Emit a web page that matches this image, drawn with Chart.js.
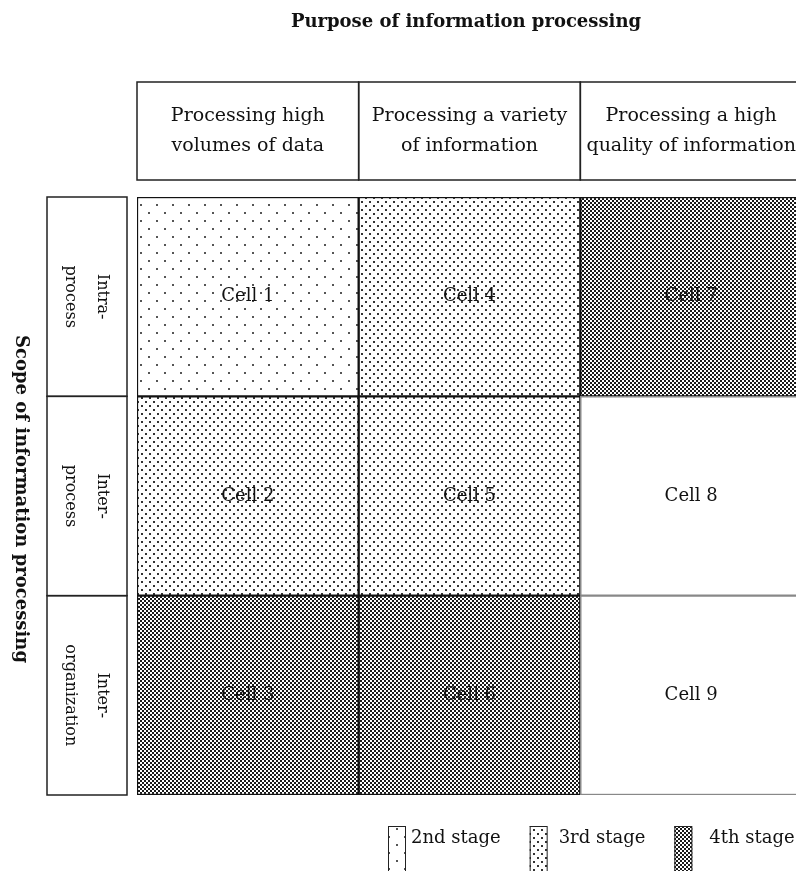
<!DOCTYPE html>
<html lang="en">

<head>
    <meta charset="UTF-8">
    <meta name="viewport" content="width=device-width, initial-scale=1.0">
    <title>Information processing stages</title>
    <style>
        * {
            margin: 0;
            padding: 0;
        }

        body {
            background: #fff;
            overflow: hidden;
        }

        canvas {
            display: block;
        }
    </style>
</head>

<body>
    <canvas id="myChart" width="802" height="871"></canvas>
</body>
<script src="https://cdn.jsdelivr.net/npm/chart.js@4.4.1/dist/chart.umd.min.js"></script>

<script>
    // column headers (purpose of information processing)
    const columnLabels = [
        ['Processing high', 'volumes of data'],
        ['Processing a variety', 'of information'],
        ['Processing a high', 'quality of information']
    ];
    // row headers (scope of information processing), top to bottom
    const rowLabels = [
        ['Intra-', 'process'],
        ['Inter-', 'process'],
        ['Inter-', 'organization']
    ];
    // cell names per row, top to bottom
    const cellNames = [
        ['Cell 1', 'Cell 4', 'Cell 7'],
        ['Cell 2', 'Cell 5', 'Cell 8'],
        ['Cell 3', 'Cell 6', 'Cell 9']
    ];
    // stage of each cell (0 = none)
    const cellStages = [
        [2, 3, 4],
        [3, 3, 0],
        [4, 4, 0]
    ];
    const cellHeight = [1, 1, 1];
    const stageNumbers = [2, 3, 4];
    const stageLabels = ['2nd stage', '3rd stage', '4th stage'];
    const titleTop = 'Purpose of information processing';
    const titleSide = 'Scope of information processing';

    const serif = '"DejaVu Serif", "Liberation Serif", serif';

    function makePattern(stage) {
        if (!stage) return '#ffffff';
        const c = document.createElement('canvas');
        const g = c.getContext('2d');
        if (stage == 2) {
            c.width = 16; c.height = 16;
            g.fillStyle = '#fff'; g.fillRect(0, 0, 16, 16);
            g.fillStyle = '#555';
            g.fillRect(4, 4, 2, 2);
            g.fillRect(12, 12, 2, 2);
        } else if (stage == 3) {
            c.width = 8; c.height = 8;
            g.fillStyle = '#fff'; g.fillRect(0, 0, 8, 8);
            g.fillStyle = '#333';
            g.fillRect(1, 1, 2, 2);
            g.fillRect(5, 5, 2, 2);
        } else {
            c.width = 4; c.height = 4;
            g.fillStyle = '#fff'; g.fillRect(0, 0, 4, 4);
            g.fillStyle = '#1a1a1a';
            g.fillRect(0, 0, 2, 2);
            g.fillRect(2, 2, 2, 2);
        }
        return g.createPattern(c, 'repeat');
    }

    const patterns = {};
    stageNumbers.forEach(s => patterns[s] = makePattern(s));
    patterns[0] = '#ffffff';

    // stacked bars build from the bottom, so reverse the rows
    const datasets = [];
    for (let r = rowLabels.length - 1; r >= 0; r--) {
        datasets.push({
            label: rowLabels[r].join(''),
            data: cellHeight.slice(),
            cellNames: cellNames[r],
            backgroundColor: cellStages[r].map(s => patterns[s]),
            borderColor: cellStages[r].map(s => s ? '#111' : '#888'),
            borderWidth: 1.5,
            borderSkipped: false,
            barPercentage: 1,
            categoryPercentage: 1
        });
    }

    const gridDecor = {
        id: 'gridDecor',
        afterDatasetsDraw(chart) {
            const ctx = chart.ctx;
            const area = chart.chartArea;
            ctx.save();
            ctx.fillStyle = '#111';
            ctx.strokeStyle = '#222';
            ctx.textAlign = 'center';
            ctx.textBaseline = 'middle';

            // cell names
            ctx.font = '18px ' + serif;
            chart.data.datasets.forEach((ds, di) => {
                chart.getDatasetMeta(di).data.forEach((bar, ci) => {
                    const p = bar.getProps(['x', 'y', 'base'], true);
                    ctx.fillText(ds.cellNames[ci], p.x, (p.y + p.base) / 2);
                });
            });

            // column header boxes
            const cols = chart.getDatasetMeta(0).data;
            const hTop = area.top - 115, hBot = area.top - 17;
            ctx.lineWidth = 1.5;
            ctx.font = '19px ' + serif;
            cols.forEach((bar, ci) => {
                const p = bar.getProps(['x', 'width'], true);
                ctx.strokeRect(p.x - p.width / 2, hTop, p.width, hBot - hTop);
                columnLabels[ci].forEach((line, li) => {
                    ctx.fillText(line, p.x, hTop + 34 + li * 30);
                });
            });

            // row header boxes, rotated text
            const bx0 = area.left - 90, bx1 = area.left - 10;
            ctx.font = '16px ' + serif;
            chart.data.datasets.forEach((ds, di) => {
                const p = chart.getDatasetMeta(di).data[0].getProps(['y', 'base'], true);
                const r = rowLabels.length - 1 - di;
                ctx.strokeRect(bx0, p.y, bx1 - bx0, p.base - p.y);
                ctx.save();
                ctx.translate(area.left - 51, (p.y + p.base) / 2);
                ctx.rotate(Math.PI / 2);
                rowLabels[r].forEach((line, li) => {
                    ctx.fillText(line, 0, -16 + li * 32);
                });
                ctx.restore();
            });

            // titles
            ctx.font = 'bold 18px ' + serif;
            ctx.fillText(titleTop, 466, 22);
            ctx.save();
            ctx.translate(21, (area.top + area.bottom) / 2 + 3);
            ctx.rotate(Math.PI / 2);
            ctx.fillText(titleSide, 0, 0);
            ctx.restore();

            // legend
            ctx.font = '18px ' + serif;
            ctx.textAlign = 'left';
            ctx.lineWidth = 1;
            let lx = 388;
            const ly = area.bottom + 31;
            stageNumbers.forEach((s, i) => {
                ctx.fillStyle = patterns[s];
                ctx.fillRect(lx, ly, 18, 60);
                ctx.strokeRect(lx + 0.5, ly + 0.5, 17, 60);
                ctx.fillStyle = '#111';
                ctx.fillText(stageLabels[i], lx + 23 + i * 6, ly + 12);
                lx += 23 + i * 6 + ctx.measureText(stageLabels[i]).width + 29;
            });
            ctx.restore();
        }
    };

    new Chart('myChart', {
        type: 'bar',
        data: {
            labels: columnLabels.map(c => c.join(' ')),
            datasets: datasets
        },
        options: {
            responsive: false,
            animation: false,
            layout: {
                padding: { left: 137, top: 197, right: 0, bottom: 76 }
            },
            scales: {
                x: { display: false, stacked: true },
                y: { display: false, stacked: true, min: 0, max: 3 }
            },
            plugins: {
                legend: { display: false },
                tooltip: { enabled: false }
            }
        },
        plugins: [gridDecor]
    });
</script>

</html>
